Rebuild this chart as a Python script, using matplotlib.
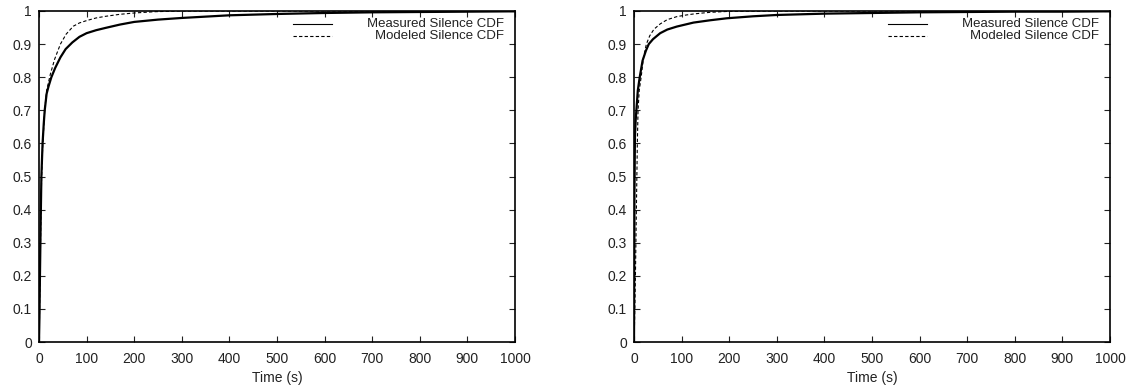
import matplotlib
matplotlib.use("Agg")
import matplotlib.pyplot as plt
import numpy as np

plt.rcParams['font.family'] = ['Liberation Sans', 'DejaVu Sans']
plt.rcParams['font.size'] = 10

# Left panel: silence duration CDF
left_meas_t = [0, 1, 2, 3.5, 5, 7.5, 10, 12, 16, 20, 26, 34, 45, 56, 70, 85, 100, 120, 140,
               170, 200, 250, 300, 400, 500, 600, 700, 800, 900, 1000]
left_meas_f = [0, 0.08, 0.2, 0.36, 0.5, 0.6, 0.66, 0.7, 0.75, 0.772, 0.8, 0.828, 0.86, 0.885,
               0.905, 0.922, 0.933, 0.942, 0.949, 0.959, 0.967, 0.974, 0.979, 0.987, 0.991,
               0.994, 0.996, 0.997, 0.998, 0.999]
left_model_t = [0, 1, 2, 3.5, 5.5, 8, 12, 16, 24, 33, 45, 57, 72, 85, 100, 120, 140, 170,
                200, 245, 300, 1000]
left_model_f = [0, 0.07, 0.18, 0.33, 0.5, 0.6, 0.7, 0.76, 0.81, 0.855, 0.9, 0.93, 0.954, 0.964,
                0.971, 0.979, 0.984, 0.99, 0.994, 0.998, 1.0, 1.0]

# Right panel
right_meas_t = [0, 0.5, 1, 2, 3.5, 5, 8, 12, 18, 25, 31, 40, 55, 70, 90, 125, 160, 195, 250,
                300, 400, 500, 600, 700, 800, 900, 1000]
right_meas_f = [0, 0.2, 0.45, 0.62, 0.67, 0.7, 0.76, 0.8, 0.85, 0.88, 0.9, 0.915, 0.933, 0.944,
                0.953, 0.965, 0.972, 0.978, 0.984, 0.988, 0.992, 0.994, 0.996, 0.997, 0.998,
                0.998, 0.999]
right_model_t = [0, 1, 2, 3, 4.5, 6, 7, 8.5, 11, 15, 20, 26, 33, 42, 55, 70, 90, 110, 125, 145,
                 160, 200, 300, 1000]
right_model_f = [0, 0.05, 0.12, 0.2, 0.35, 0.5, 0.6, 0.7, 0.76, 0.8, 0.86, 0.9, 0.925, 0.945,
                 0.961, 0.974, 0.983, 0.988, 0.991, 0.994, 0.996, 0.999, 1.0, 1.0]

x_ticks = np.arange(0, 1001, 100)
y_ticks = np.round(np.arange(0, 1.01, 0.1), 1)
y_labels = ['0', '0.1', '0.2', '0.3', '0.4', '0.5', '0.6', '0.7', '0.8', '0.9', '1']
legend_labels = ['Measured Silence CDF', 'Modeled Silence CDF']

W, H = 1135, 387
fig = plt.figure(figsize=(W / 100, H / 100), dpi=100)
ax_l = fig.add_axes([39 / W, (H - 342) / H, 476 / W, 331 / H])
ax_r = fig.add_axes([634 / W, (H - 342) / H, 476 / W, 331 / H])

panels = [
    (ax_l, left_meas_t, left_meas_f, left_model_t, left_model_f),
    (ax_r, right_meas_t, right_meas_f, right_model_t, right_model_f),
]

for ax, mt, mf, dt, df in panels:
    ax.plot(mt, mf, color='black', lw=1.6, solid_capstyle='butt')
    ax.plot(dt, df, color='black', lw=0.8, linestyle=(0, (3, 2)))
    ax.set_xlim(0, 1000)
    ax.set_ylim(0, 1)
    ax.set_xticks(x_ticks)
    ax.set_yticks(y_ticks)
    ax.set_yticklabels(y_labels)
    ax.tick_params(direction='in', top=True, right=True, length=4, width=0.8,
                   colors='#222222', labelcolor='#222222')
    ax.tick_params(axis='x', pad=7)
    ax.tick_params(axis='y', pad=5)
    for sp in ax.spines.values():
        sp.set_linewidth(1.2)
    ax.set_xlabel('Time (s)', labelpad=4, color='#222222')

    # gnuplot-style key: sample on the left, text right-aligned
    for i, (lab, ls) in enumerate(zip(legend_labels, ['-', (0, (3, 2))])):
        yy = 0.96 - 0.036 * i
        ax.plot([0.534, 0.616], [yy, yy], transform=ax.transAxes, color='black',
                lw=0.8, linestyle=ls, clip_on=False)
        ax.text(0.977, yy, lab, transform=ax.transAxes, ha='right', va='center',
                color='#222222', fontsize=9.5)

fig.savefig('out.png', dpi=100)
